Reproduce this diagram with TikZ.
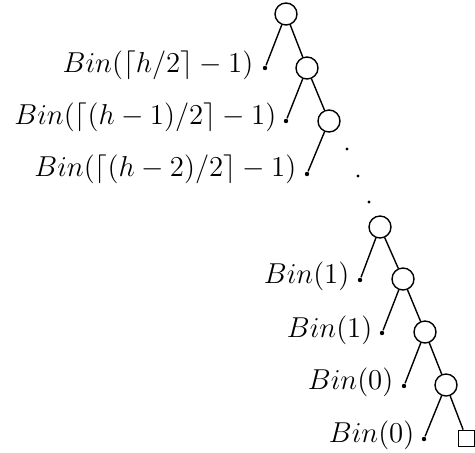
\documentclass[tikz,border=0pt]{standalone}
\begin{document}
\begin{tikzpicture}[x=0.5pt,y=-0.5pt,line width=0.7pt,
  vert/.style={draw,circle,minimum size=11pt,inner sep=0pt},
  leaf/.style={fill,circle,minimum size=2.2pt,inner sep=0pt},
  sq/.style={draw,rectangle,minimum size=8.2pt,inner sep=0pt},
  edot/.style={fill,circle,minimum size=1.7pt,inner sep=0pt},
  lbl/.style={anchor=base east,inner sep=0pt,font=\fontsize{14.7}{17}\selectfont}]
\useasboundingbox (0,0) rectangle (475,452);
% internal nodes
\node[vert] (c1) at (286,14) {};
\node[vert] (c2) at (307,68) {};
\node[vert] (c3) at (329,121) {};
\node[vert] (c4) at (380,227) {};
\node[vert] (c5) at (403,279) {};
\node[vert] (c6) at (425,332) {};
\node[vert] (c7) at (446,385) {};
\node[sq] (s) at (466.5,438.5) {};
% leaves
\node[leaf] (l1) at (265,68) {};
\node[leaf] (l2) at (286,121) {};
\node[leaf] (l3) at (307,174) {};
\node[leaf] (l4) at (360,280) {};
\node[leaf] (l5) at (382,333) {};
\node[leaf] (l6) at (404,386) {};
\node[leaf] (l7) at (424,439) {};
% ellipsis
\node[edot] (e1) at (347,149) {};
\node[edot] (e2) at (358,176) {};
\node[edot] (e3) at (369,202) {};
% edges
\draw (c1) -- (l1);
\draw (c1) -- (c2);
\draw (c2) -- (l2);
\draw (c2) -- (c3);
\draw (c3) -- (l3);
\draw (c4) -- (l4);
\draw (c4) -- (c5);
\draw (c5) -- (l5);
\draw (c5) -- (c6);
\draw (c6) -- (l6);
\draw (c6) -- (c7);
\draw (c7) -- (l7);
\draw (c7) -- (s);
% labels
\node[lbl] (t1) at (254,72) {$Bin(\lceil h/2\rceil-1)$};
\node[lbl] (t2) at (277,124) {$Bin(\lceil (h-1)/2\rceil-1)$};
\node[lbl] (t3) at (297,176) {$Bin(\lceil (h-2)/2\rceil-1)$};
\node[lbl] (t4) at (350,283) {$Bin(1)$};
\node[lbl] (t5) at (373,337) {$Bin(1)$};
\node[lbl] (t6) at (394,389) {$Bin(0)$};
\node[lbl] (t7) at (415,442) {$Bin(0)$};
\end{tikzpicture}
\end{document}
